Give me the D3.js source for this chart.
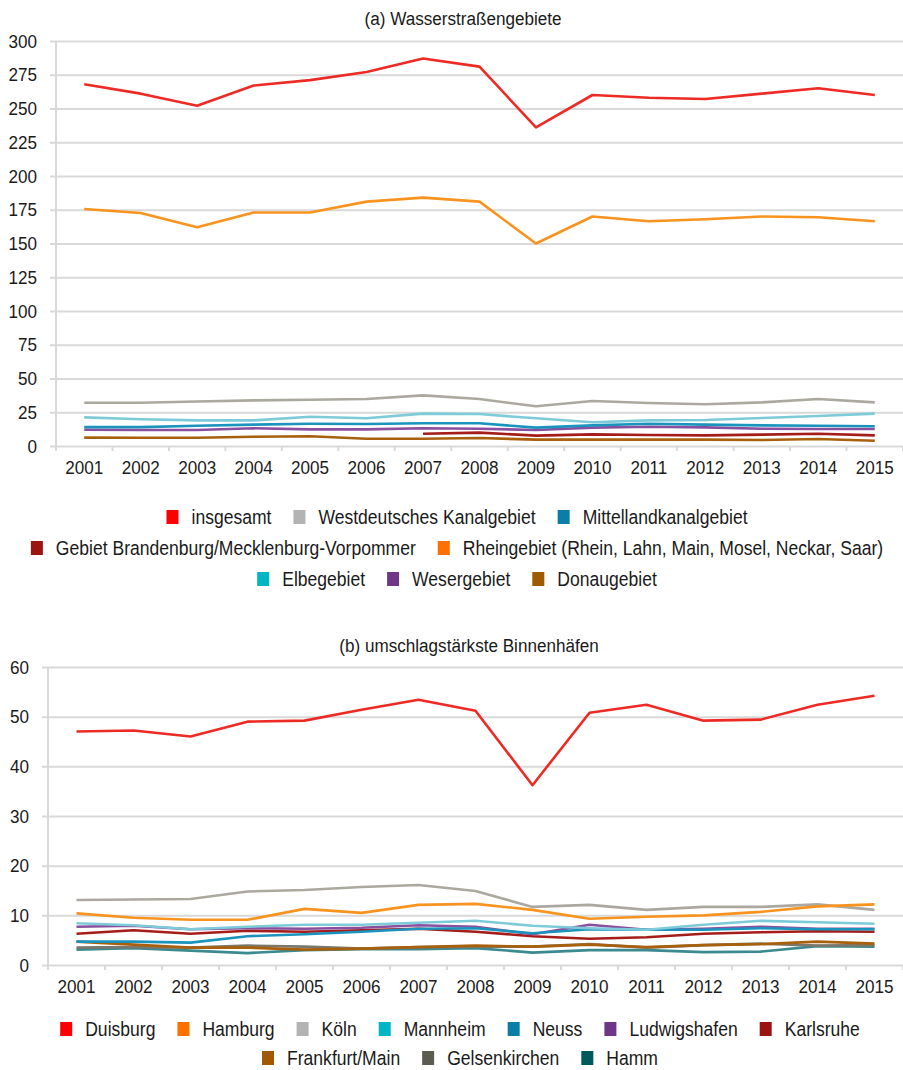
<!DOCTYPE html>
<html>
<head>
<meta charset="utf-8">
<script src="https://cdn.jsdelivr.net/npm/d3@7"></script>
<style>
body { margin: 0; background: #fff; }
text { font-family: "Liberation Sans", Arial, sans-serif; fill: #1a1a1a; }
</style>
</head>
<body>
<svg id="chart" width="903" height="1070"></svg>
<script>
var years = ["2001","2002","2003","2004","2005","2006","2007","2008","2009","2010","2011","2012","2013","2014","2015"]

// (a) Wasserstraßengebiete
var namesA = ["insgesamt", "Westdeutsches Kanalgebiet", "Mittellandkanalgebiet",
    "Gebiet Brandenburg/Mecklenburg-Vorpommer", "Rheingebiet (Rhein, Lahn, Main, Mosel, Neckar, Saar)",
    "Elbegebiet", "Wesergebiet", "Donaugebiet"]
var insgesamt     = [268, 261, 252, 267, 271, 277, 287, 281, 236, 260, 258, 257, 261, 265, 260]
var westdeutsch   = [32, 32, 33, 33.8, 34.3, 34.8, 37.5, 34.8, 29.4, 33.3, 31.9, 30.9, 32.3, 34.8, 32.3]
var mittelland    = [14, 14, 15, 15.8, 16.5, 16.3, 16.8, 16.8, 13.6, 15.3, 16.5, 15.8, 15.3, 15, 14.6]
var brandenburg   = [null, null, null, null, null, null, 9.1, 9.9, 7.7, 8.6, 8.1, 7.9, 8.4, 9.1, 7.9]
var rhein         = [175.5, 172.6, 162, 173, 173, 181, 184, 181, 150, 170, 166.5, 168, 170, 169.5, 166.5]
var elbe          = [21.2, 19.8, 19, 19, 21.7, 20.5, 24, 23.7, 20.5, 17.6, 19, 19.3, 20.7, 22.2, 24]
var weser         = [12, 11.9, 11.9, 13.1, 12.3, 12.3, 13.1, 12.8, 11.9, 13.6, 14.3, 13.8, 12.8, 12.6, 12.6]
var donau         = [6.2, 6.1, 6.1, 6.9, 7.2, 5.4, 5.4, 5.9, 4.7, 4.7, 4.7, 4.7, 4.4, 5.2, 3.9]
var seriesA = [insgesamt, westdeutsch, mittelland, brandenburg, rhein, elbe, weser, donau]
var ticksA = [0, 25, 50, 75, 100, 125, 150, 175, 200, 225, 250, 275, 300]

// (b) umschlagstärkste Binnenhäfen
var namesB = ["Duisburg", "Hamburg", "Köln", "Mannheim", "Neuss", "Ludwigshafen", "Karlsruhe",
    "Frankfurt/Main", "Gelsenkirchen", "Hamm"]
var duisburg      = [47, 47.2, 46, 49, 49.2, 51.4, 53.4, 51.2, 36.2, 50.8, 52.4, 49.2, 49.4, 52.4, 54.2]
var hamburg       = [10.4, 9.5, 9.1, 9.1, 11.3, 10.5, 12.1, 12.3, 11.1, 9.3, 9.7, 10, 10.7, 11.8, 12.2]
var koeln         = [13.1, 13.2, 13.3, 14.8, 15.1, 15.7, 16.1, 14.9, 11.7, 12.1, 11.1, 11.7, 11.7, 12.2, 11.1]
var mannheim      = [8.4, 8, 7.2, 7.7, 8.1, 8.1, 8.5, 8.9, 7.9, 7.4, 7.1, 8.1, 8.9, 8.6, 8.3]
var neuss         = [4.7, 4.7, 4.5, 5.8, 6.2, 6.7, 7.3, 7.4, 6.4, 7.2, 7.1, 7.1, 7.4, 7.2, 7.2]
var ludwigshafen  = [7.7, 7.9, 7.2, 7.4, 7.3, 7.5, 8, 7.7, 6.2, 8.1, 7.1, 7.3, 7.7, 7.3, 7.3]
var karlsruhe     = [6.3, 7, 6.3, 6.9, 6.7, 7, 7.3, 6.7, 5.8, 5.3, 5.6, 6.3, 6.6, 6.8, 6.7]
var frankfurt     = [4.7, 4.1, 3.5, 3.5, 3.1, 3.3, 3.6, 3.9, 3.7, 4.1, 3.6, 4, 4.2, 4.7, 4.3]
var gelsenkirchen = [3.5, 3.6, 3.5, 3.9, 3.7, 3.3, 3.6, 3.7, 3.7, 4.2, 3.5, 4, 4.3, 3.9, 4]
var hamm          = [3.1, 3.4, 2.9, 2.4, 3, 3.2, 3.2, 3.4, 2.5, 3, 3, 2.6, 2.7, 3.8, 3.7]
var seriesB = [duisburg, hamburg, koeln, mannheim, neuss, ludwigshafen, karlsruhe, frankfurt, gelsenkirchen, hamm]
var ticksB = [0, 10, 20, 30, 40, 50, 60]

// line colours and legend swatch colours
var lineColA = ["#ee2a24", "#aaa89f", "#1b94bd", "#a51d1a", "#f7931e", "#7dcbd9", "#8a4f9e", "#a8600c"]
var keyColA  = ["#ff0000", "#b3b3b3", "#0a7da8", "#9c1410", "#ff7000", "#00b5c4", "#6f3586", "#a05a00"]
var lineColB = ["#ee2a24", "#f7931e", "#aaa89f", "#7dcbd9", "#1b94bd", "#8a4f9e", "#a51d1a", "#a8600c", "#7a776c", "#3a8a8f"]
var keyColB  = ["#ff0000", "#ff7000", "#b3b3b3", "#00b5c4", "#0a7da8", "#6f3586", "#9c1410", "#a05a00", "#5b5b50", "#00595b"]

var SX = 0.9   // squeeze text horizontally, the original uses a condensed face
var svg = d3.select('#chart')

function drawPanel (opt) {
    var g = svg.append('g')
    var x = d3.scaleBand().domain(years).range([opt.left, opt.right])
    var y = d3.scaleLinear().domain([0, d3.max(opt.ticks)]).range([opt.bottom, opt.top])

    // gridlines
    g.append('g')
        .attr('transform', `translate(${opt.left},0)`)
        .call(d3.axisLeft(y).tickValues(opt.ticks).tickSize(-(opt.right - opt.left + 6)).tickFormat(''))
        .call(s => s.select('.domain').remove())
        .selectAll('line')
        .attr('transform', 'translate(-6,0)')
        .attr('stroke', '#d9d9d9').attr('stroke-width', 2)

    // y axis labels
    g.append('g')
        .attr('transform', `translate(${opt.left},0)`)
        .call(d3.axisLeft(y).tickValues(opt.ticks).tickSize(0).tickPadding(19 / SX))
        .call(s => s.select('.domain').remove())
        .selectAll('text')
        .attr('font-size', '19px').attr('fill', '#1a1a1a')
        .attr('transform', `scale(${SX},1)`)
        .style('font-family', '"Liberation Sans", sans-serif')

    // vertical axis line
    g.append('line')
        .attr('x1', opt.left).attr('x2', opt.left)
        .attr('y1', y(d3.max(opt.ticks))).attr('y2', opt.bottom + 5)
        .attr('stroke', '#d9d9d9').attr('stroke-width', 2)

    // x ticks between categories
    g.selectAll('.xtick')
        .data(years)
        .enter().append('line')
        .attr('x1', d => x(d) + x.bandwidth()).attr('x2', d => x(d) + x.bandwidth())
        .attr('y1', opt.bottom).attr('y2', opt.bottom + 5)
        .attr('stroke', '#d9d9d9').attr('stroke-width', 2)

    // x labels
    g.append('g')
        .attr('transform', `translate(0,${opt.bottom})`)
        .call(d3.axisBottom(x).tickSize(0).tickPadding(15))
        .call(s => s.select('.domain').remove())
        .selectAll('text')
        .attr('font-size', '19px').attr('fill', '#1a1a1a')
        .attr('transform', `scale(${SX},1)`)
        .style('font-family', '"Liberation Sans", sans-serif')

    // lines
    var line = d3.line()
        .defined(d => d != null)
        .x((d, i) => x(years[i]) + x.bandwidth() / 2)
        .y(d => y(d))
    for (let i = opt.series.length - 1; i >= 0; i--) {
        g.append('path')
            .datum(opt.series[i])
            .attr('d', line)
            .attr('fill', 'none')
            .attr('stroke', opt.lineCol[i])
            .attr('stroke-width', 2.6)
            .attr('stroke-linejoin', 'round')
    }

    // title
    g.append('g')
        .attr('transform', `translate(${opt.titleX},${opt.titleY}) scale(${SX},1)`)
        .append('text')
        .attr('text-anchor', 'middle')
        .attr('font-size', '19px')
        .text(opt.title)

    // legend, centered rows
    opt.rows.forEach((row, r) => {
        var lg = g.append('g')
        var cx = 0
        row.forEach(idx => {
            var it = lg.append('g').attr('transform', `translate(${cx},0)`)
            it.append('rect')
                .attr('x', 0).attr('y', -7).attr('width', 12).attr('height', 14)
                .attr('fill', opt.keyCol[idx])
            var t = it.append('g')
                .attr('transform', `translate(25,7) scale(${SX},1)`)
                .append('text')
                .attr('font-size', '19.5px')
                .text(opt.names[idx])
            cx += 25 + t.node().getComputedTextLength() * SX + 22
        })
        var w = cx - 22
        lg.attr('transform', `translate(${opt.legendX - w / 2},${opt.legendY + r * opt.rowGap})`)
    })
}

drawPanel({
    left: 56, right: 903, top: 41, bottom: 446,
    ticks: ticksA, series: seriesA, names: namesA,
    lineCol: lineColA, keyCol: keyColA,
    title: '(a) Wasserstraßengebiete', titleX: 463, titleY: 25,
    rows: [[0, 1, 2], [3, 4], [5, 6, 7]], legendX: 457, legendY: 517, rowGap: 31
})

drawPanel({
    left: 48, right: 903, top: 667, bottom: 965,
    ticks: ticksB, series: seriesB, names: namesB,
    lineCol: lineColB, keyCol: keyColB,
    title: '(b) umschlagstärkste Binnenhäfen', titleX: 469, titleY: 652,
    rows: [[0, 1, 2, 3, 4, 5, 6], [7, 8, 9]], legendX: 460, legendY: 1029, rowGap: 29
})
</script>
</body>
</html>
